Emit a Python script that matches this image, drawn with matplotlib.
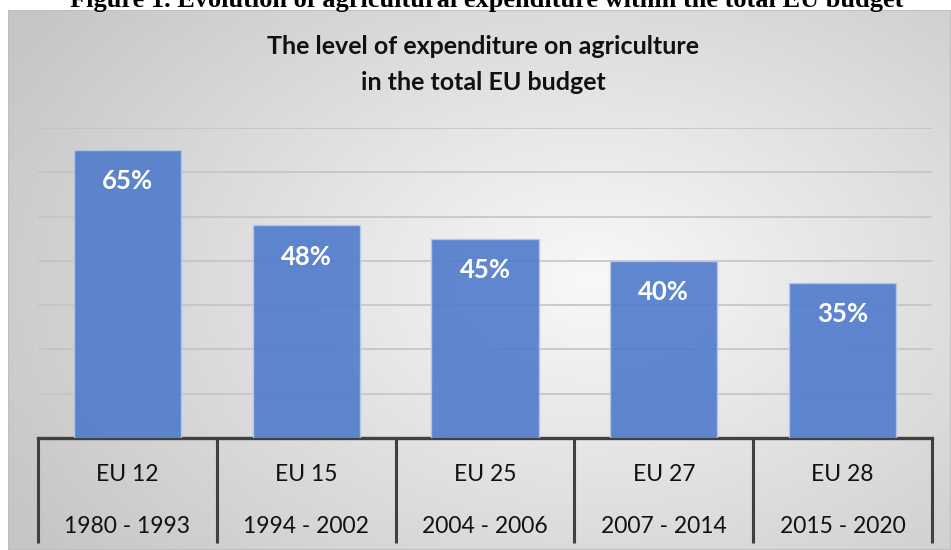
import numpy as np
import matplotlib
matplotlib.use('Agg')
import matplotlib.pyplot as plt
import matplotlib.transforms as mtransforms
from matplotlib.patches import Rectangle

groups = ['EU 12', 'EU 15', 'EU 25', 'EU 27', 'EU 28']
periods = ['1980 - 1993', '1994 - 2002', '2004 - 2006', '2007 - 2014', '2015 - 2020']
shares = [65, 48, 45, 40, 35]

W, H = 951, 550
fig = plt.figure(figsize=(W / 100, H / 100), dpi=100)
plt.rcParams['font.family'] = ['Lato', 'DejaVu Sans']

# gradient background of the chart box
bg = fig.add_axes([8 / W, 0, 1 - 8 / W, 1 - 10 / H], zorder=0)
yy, xx = np.mgrid[0:1:300j, 0:1:500j]
d = np.sqrt(((xx - 0.62) / 0.72) ** 2 + ((yy - 0.5) / 0.85) ** 2)
d = np.clip(d, 0, 1)
shade = 0.975 - 0.2 * d
bg.imshow(np.dstack([shade] * 3), extent=[0, 1, 0, 1], aspect='auto', origin='lower')
bg.add_patch(Rectangle((0, 0), 1, 1, transform=bg.transAxes, fill=False,
                       edgecolor='#bdbdbd', lw=1.2))
bg.set_axis_off()

fig.text(487 / W, 1 - 6.5 / H,
         'Figure 1. Evolution of agricultural expenditure within the total EU budget',
         family='Liberation Serif', fontweight='bold', fontsize=19,
         ha='center', va='baseline')

fig.text(483 / W, 1 - 47 / H, 'The level of expenditure on agriculture',
         fontweight='bold', fontsize=18, ha='center', va='center', color='#111111')
fig.text(483 / W, 1 - 83 / H, 'in the total EU budget',
         fontweight='bold', fontsize=18, ha='center', va='center', color='#111111')

ax = fig.add_axes([38 / W, 1 - 438 / H, (932 - 38) / W, (438 - 128) / H], zorder=1)
ax.set_facecolor('none')
x = np.arange(len(groups))
bars = ax.bar(x, shares, width=0.6, color='#4f7bcb', alpha=0.9,
              edgecolor='#b4c8ec', linewidth=1, zorder=3)
for xi, v in zip(x, shares):
    ax.annotate(f'{v}%', (xi, v), xytext=(0, -22.5), textcoords='offset points',
                ha='center', va='center', color='white', fontweight='bold',
                fontsize=18.5, zorder=4)

ax.set_xlim(-0.5, len(groups) - 0.5)
ax.set_ylim(0, 70)
ax.set_yticks(np.arange(10, 80, 10))
ax.yaxis.grid(True, color='#c4c4c4', lw=1.2)
ax.set_axisbelow(True)
ax.tick_params(left=False, labelleft=False, bottom=False, labelbottom=False)
for s in ['left', 'right', 'top']:
    ax.spines[s].set_visible(False)
ax.spines['bottom'].set_color('#404040')
ax.spines['bottom'].set_linewidth(2.4)

# two-level category table below the axis
tr = mtransforms.blended_transform_factory(ax.transData, ax.transAxes)
for b in np.arange(-0.5, len(groups), 1.0):
    ax.plot([b, b], [0, -0.339], transform=tr, color='#404040', lw=2.2,
            clip_on=False, solid_capstyle='butt')
for xi, g, p in zip(x, groups, periods):
    ax.text(xi, -0.119, g, transform=tr, ha='center', va='center', fontsize=16.5,
            color='#111111')
    ax.text(xi, -0.284, p, transform=tr, ha='center', va='center', fontsize=16.5,
            color='#111111')

fig.savefig('out.png', dpi=100)
